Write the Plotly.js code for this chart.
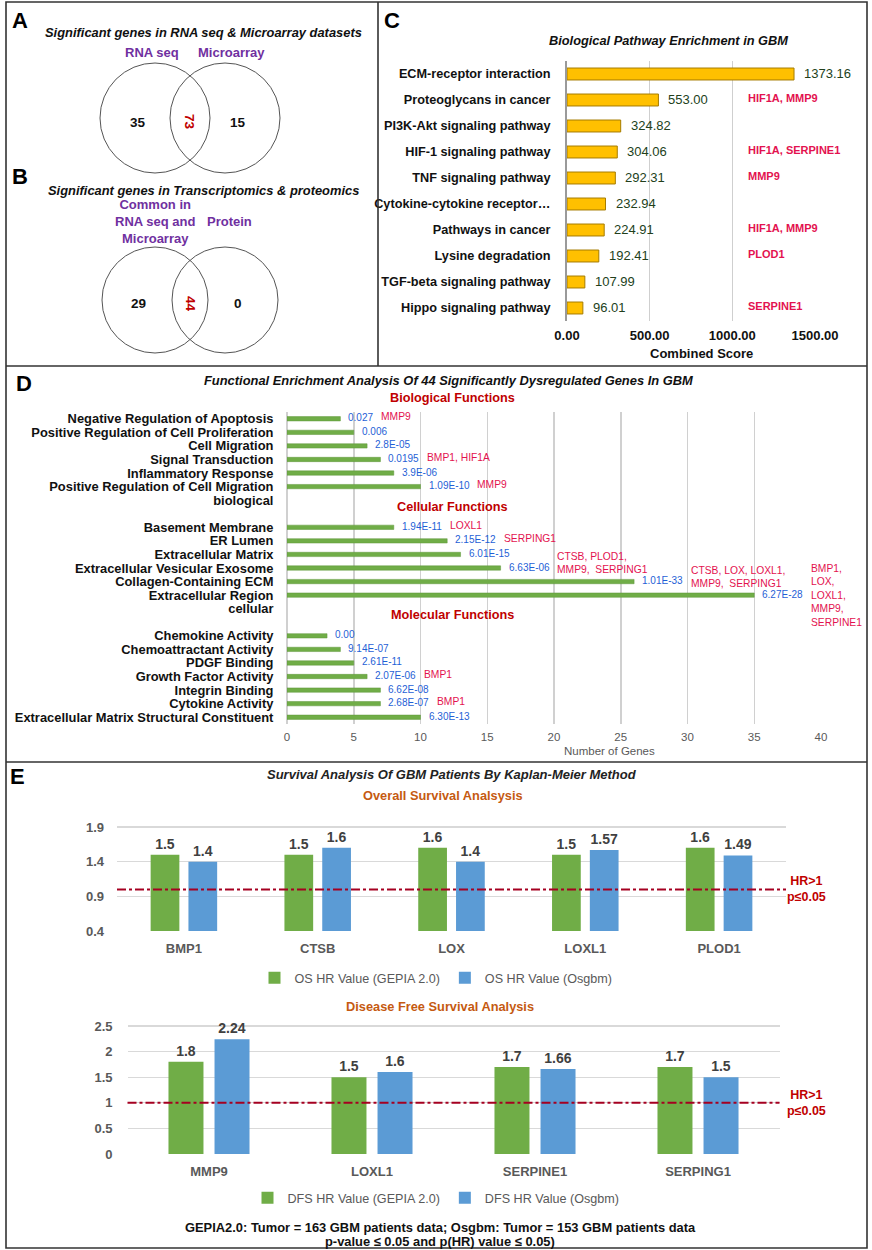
<!DOCTYPE html>
<html><head><meta charset="utf-8">
<script src="https://cdn.plot.ly/plotly-3.0.1.min.js"></script>
<style>html,body{margin:0;padding:0;background:#fff}#chart{width:872px;height:1250px}</style>
</head><body><div id="chart"></div>
<script>
// ---------------- DATA ----------------
// Panel A / B (Venn): [left only, overlap, right only]
const vennATitle = 'Significant genes in RNA seq & Microarray datasets';
const vennASets = ['RNA seq', 'Microarray'];
const vennACounts = [35, 73, 15];
const vennBTitle = 'Significant genes in Transcriptomics & proteomics';
const vennBSets = ['Common in<br>RNA seq and<br>Microarray', 'Protein'];
const vennBCounts = [29, 44, 0];

// Panel C
const cPathways = ['ECM-receptor interaction','Proteoglycans in cancer','PI3K-Akt signaling pathway','HIF-1 signaling pathway','TNF signaling pathway','Cytokine-cytokine receptor\u2026','Pathways in cancer','Lysine degradation','TGF-beta signaling pathway','Hippo signaling pathway'];
const cScores = [1373.16, 553.00, 324.82, 304.06, 292.31, 232.94, 224.91, 192.41, 107.99, 96.01];
const cGenes = ['', 'HIF1A, MMP9', '', 'HIF1A, SERPINE1', 'MMP9', '', 'HIF1A, MMP9', 'PLOD1', '', 'SERPINE1'];
const cTicks = [0, 500, 1000, 1500];

// Panel D
const dBioTerms = ['Negative Regulation of Apoptosis','Positive Regulation of Cell Proliferation','Cell Migration','Signal Transduction','Inflammatory Response','Positive Regulation of Cell Migration'];
const dBioCounts = [4, 5, 6, 7, 8, 10];
const dBioP = ['0.027','0.006','2.8E-05','0.0195','3.9E-06','1.09E-10'];
const dBioGenes = ['MMP9','','','BMP1, HIF1A','','MMP9'];
const dCellTerms = ['Basement Membrane','ER Lumen','Extracellular Matrix','Extracellular Vesicular Exosome','Collagen-Containing ECM','Extracellular Region'];
const dCellCounts = [8, 12, 13, 16, 26, 35];
const dCellP = ['1.94E-11','2.15E-12','6.01E-15','6.63E-06','1.01E-33','6.27E-28'];
const dCellGenes = ['LOXL1','SERPING1','','CTSB, PLOD1,<br>MMP9,\u00a0 SERPING1','CTSB, LOX, LOXL1,<br>MMP9,\u00a0 SERPING1','BMP1,<br>LOX,<br>LOXL1,<br>MMP9,<br>SERPINE1'];
const dMolTerms = ['Chemokine Activity','Chemoattractant Activity','PDGF Binding','Growth Factor Activity','Integrin Binding','Cytokine Activity','Extracellular Matrix Structural Constituent'];
const dMolCounts = [3, 4, 5, 6, 7, 7, 10];
const dMolP = ['0.00','9.14E-07','2.61E-11','2.07E-06','6.62E-08','2.68E-07','6.30E-13'];
const dMolGenes = ['','','','BMP1','','BMP1',''];
const dGroupTails = ['biological', 'cellular', ''];
const dSectionTitles = ['Biological Functions', 'Cellular Functions', 'Molecular Functions'];
const dTicks = [0, 5, 10, 15, 20, 25, 30, 35, 40];

// Panel E
const osGenes = ['BMP1','CTSB','LOX','LOXL1','PLOD1'];
const osGepia = [1.5, 1.5, 1.6, 1.5, 1.6];
const osOsgbm = [1.4, 1.6, 1.4, 1.57, 1.49];
const osTicks = [0.4, 0.9, 1.4, 1.9];
const dfsGenes = ['MMP9','LOXL1','SERPINE1','SERPING1'];
const dfsGepia = [1.8, 1.5, 1.7, 1.7];
const dfsOsgbm = [2.24, 1.6, 1.66, 1.5];
const dfsTicks = [0, 0.5, 1, 1.5, 2, 2.5];
const hrThreshold = 1;

// ---------------- HELPERS ----------------
const W = 872, H = 1250;
const px = x => x / W, py = y => 1 - y / H;
const FONT = '"Liberation Sans", Arial, Helvetica, sans-serif';
const cv = document.createElement('canvas').getContext('2d');
function textW(s, size, fam, weight) {
  cv.font = (weight || 'normal') + ' ' + size + 'px ' + fam;
  return cv.measureText(s.replace(/<[^>]+>/g, '')).width;
}
const GREEN = '#70AD47', BLUE = '#5B9BD5', PURPLE = '#7030A0', DARKRED = '#C00000', PINK = '#E3124F', PBLUE = '#1F5FD6';

const ann = [];
const shapes = [];
function txt(x, y, text, o) {
  o = o || {};
  ann.push(Object.assign({xref: 'paper', yref: 'paper', x: px(x), y: py(y), text: text, showarrow: false,
    xanchor: 'center', yanchor: 'middle',
    font: {family: FONT, size: o.size || 12, color: o.color || '#111'}}, o.extra || {}));
}

// ---------------- BORDERS ----------------
const lineS = {color: '#333', width: 1.6};
shapes.push({type: 'rect', xref: 'paper', yref: 'paper', x0: px(6), x1: px(867), y0: py(2), y1: py(1248), line: lineS});
shapes.push({type: 'line', xref: 'paper', yref: 'paper', x0: px(378), x1: px(378), y0: py(2), y1: py(366), line: lineS});
shapes.push({type: 'line', xref: 'paper', yref: 'paper', x0: px(6), x1: px(867), y0: py(366), y1: py(366), line: lineS});
shapes.push({type: 'line', xref: 'paper', yref: 'paper', x0: px(6), x1: px(867), y0: py(762), y1: py(762), line: lineS});

// panel letters
[['A', 20, 20], ['B', 20, 177], ['C', 392, 20], ['D', 24, 383], ['E', 17, 776]].forEach(l =>
  txt(l[1], l[2], '<b>' + l[0] + '</b>', {size: 22, color: '#000'}));

// ---------------- VENN A & B ----------------
function venn(cy, r, title, titleY, sets, setY, counts) {
  const cxL = 155, cxR = 225;
  shapes.push({type: 'circle', xref: 'paper', yref: 'paper', x0: px(cxL - r), x1: px(cxL + r), y0: py(cy - r), y1: py(cy + r), line: {color: '#555', width: 1}});
  shapes.push({type: 'circle', xref: 'paper', yref: 'paper', x0: px(cxR - r), x1: px(cxR + r), y0: py(cy - r), y1: py(cy + r), line: {color: '#555', width: 1}});
  txt(203, titleY, '<b><i>' + title + '</i></b>', {size: 12.9, color: '#111'});
  txt(setY[0][0], setY[0][1], '<b>' + sets[0] + '</b>', {size: 13, color: PURPLE});
  txt(setY[1][0], setY[1][1], '<b>' + sets[1] + '</b>', {size: 13, color: PURPLE});
  txt(138, cy + 4, '<b>' + counts[0] + '</b>', {size: 13.5, color: '#111'});
  txt(190, cy + 4, '<b>' + counts[1] + '</b>', {size: 13.5, color: DARKRED, extra: {textangle: 90}});
  txt(238, cy + 4, '<b>' + counts[2] + '</b>', {size: 13.5, color: '#111'});
}
venn(118, 55, vennATitle, 33, vennASets, [[152, 53], [231, 53]], vennACounts);
venn(300, 53, vennBTitle, 190, vennBSets, [[155, 222], [229, 222]], vennBCounts);

// ---------------- PANEL C ----------------
txt(668, 40, '<b><i>Biological Pathway Enrichment in GBM</i></b>', {size: 12.8, color: '#111'});
txt(701, 353, '<b>Combined Score</b>', {size: 13, color: '#111'});
cScores.forEach((v, i) => {
  ann.push({xref: 'x', yref: 'y', x: v, y: cPathways[i], text: v.toFixed(2), showarrow: false, xanchor: 'left', yanchor: 'middle',
    xshift: 8, font: {family: FONT, size: 13, color: '#223F1B'}});
  if (cGenes[i]) ann.push({xref: 'paper', yref: 'y', x: px(746), y: cPathways[i], text: '<b>' + cGenes[i] + '</b>', showarrow: false,
    xanchor: 'left', yanchor: 'middle', yshift: 2, font: {family: FONT, size: 11, color: PINK}});
});

// ---------------- PANEL D ----------------
const dGroups = [
  {terms: dBioTerms, counts: dBioCounts, p: dBioP, genes: dBioGenes},
  {terms: dCellTerms, counts: dCellCounts, p: dCellP, genes: dCellGenes},
  {terms: dMolTerms, counts: dMolCounts, p: dMolP, genes: dMolGenes}
];
const dRowPos = [], dRowLabel = [], dY = [], dX = [], dPT = [], dGT = [], dHeadPos = [];
let idx = 0;
dGroups.forEach((g, gi) => {
  dHeadPos.push(idx - 1.5);
  g.terms.forEach((t, i) => {
    dRowPos.push(idx); dRowLabel.push('<b>' + t + '</b>');
    dY.push(idx); dX.push(g.counts[i]); dPT.push(g.p[i]); dGT.push(g.genes[i]);
    idx++;
  });
  if (dGroupTails[gi]) { dRowPos.push(idx); dRowLabel.push('<b>' + dGroupTails[gi] + '</b>'); idx += 2; }
});
const dLast = idx - 1;
const dTopPx = 412, dBotPx = 724;
const dRowH = (dBotPx - dTopPx) / (dLast + 1);
txt(448, 381, '<b><i>Functional Enrichment Analysis Of 44 Significantly Dysregulated Genes In GBM</i></b>', {size: 12.9, color: '#111'});
dSectionTitles.forEach((s, i) => {
  txt(452, dTopPx + (dHeadPos[i] + 0.5) * dRowH, '<b>' + s + '</b>', {size: 12.7, color: DARKRED});
});
const PF = 10;
dX.forEach((v, i) => {
  ann.push({xref: 'x2', yref: 'y2', x: v, y: dY[i], text: dPT[i], showarrow: false, xanchor: 'left', yanchor: 'middle',
    xshift: 6, yshift: 1, font: {family: FONT, size: PF, color: PBLUE}});
  if (dGT[i]) {
    const nLines = dGT[i].split('<br>').length;
    ann.push({xref: 'x2', yref: 'y2', x: v, y: dY[i], text: dGT[i], showarrow: false, xanchor: 'left', yanchor: 'middle',
      align: 'left', xshift: 6 + textW(dPT[i], PF, FONT) + 8, yshift: nLines === 2 ? 5 : (nLines > 2 ? 0 : 2),
      font: {family: FONT, size: 10.3, color: PINK}});
  }
});
txt(609, 751, 'Number of Genes', {size: 11.5, color: '#595959'});

// ---------------- PANEL E ----------------
txt(452, 774, '<b><i>Survival Analysis Of GBM Patients By Kaplan-Meier Method</i></b>', {size: 13, color: '#222'});
txt(443, 795, '<b>Overall Survival Analsysis</b>', {size: 12.8, color: '#C55A11'});
txt(440, 1006, '<b>Disease Free Survival Analysis</b>', {size: 12.8, color: '#C55A11'});
txt(440, 1227, '<b>GEPIA2.0: Tumor = 163 GBM patients data; Osgbm: Tumor = 153 GBM patients data</b>', {size: 12.9, color: '#111'});
txt(440, 1241, '<b>p-value \u2264 0.05 and p(HR) value \u2264 0.05)</b>', {size: 12.9, color: '#111'});
[['x3', 'y3'], ['x4', 'y4']].forEach(a => {
  shapes.push({type: 'line', xref: a[0] + ' domain', yref: a[1], x0: 0, x1: 1, y0: hrThreshold, y1: hrThreshold,
    line: {color: '#A50021', width: 2, dash: 'dashdot'}});
  ann.push({xref: 'paper', yref: a[1], x: px(806), y: hrThreshold, text: '<b>HR>1<br>p\u22640.05</b>', showarrow: false,
    xanchor: 'center', yanchor: 'middle', font: {family: FONT, size: 12.5, color: DARKRED}});
});

// ---------------- TRACES ----------------
const valFont = {family: FONT, size: 14, color: '#404040', weight: 'bold'};
const traces = [
  {type: 'bar', orientation: 'h', x: cScores, y: cPathways, xaxis: 'x', yaxis: 'y', width: 0.46,
    marker: {color: '#FFC000', line: {color: '#A67C00', width: 1}}, showlegend: false, hoverinfo: 'skip', cliponaxis: false},
  {type: 'bar', orientation: 'h', x: dX, y: dY, xaxis: 'x2', yaxis: 'y2', width: 0.32,
    marker: {color: GREEN, line: {color: '#5E963A', width: 0.5}}, showlegend: false, hoverinfo: 'skip', cliponaxis: false},
  {type: 'bar', name: 'OS HR Value (GEPIA 2.0)', x: osGenes, y: osGepia, xaxis: 'x3', yaxis: 'y3', marker: {color: GREEN},
    text: osGepia.map(String), textposition: 'outside', constraintext: 'none', cliponaxis: true, textfont: valFont, legend: 'legend'},
  {type: 'bar', name: 'OS HR Value (Osgbm)', x: osGenes, y: osOsgbm, xaxis: 'x3', yaxis: 'y3', marker: {color: BLUE},
    text: osOsgbm.map(String), textposition: 'outside', constraintext: 'none', cliponaxis: true, textfont: valFont, legend: 'legend'},
  {type: 'bar', name: 'DFS HR Value (GEPIA 2.0)', x: dfsGenes, y: dfsGepia, xaxis: 'x4', yaxis: 'y4', marker: {color: GREEN},
    text: dfsGepia.map(String), textposition: 'outside', constraintext: 'none', cliponaxis: true, textfont: valFont, legend: 'legend2'},
  {type: 'bar', name: 'DFS HR Value (Osgbm)', x: dfsGenes, y: dfsOsgbm, xaxis: 'x4', yaxis: 'y4', marker: {color: BLUE},
    text: dfsOsgbm.map(String), textposition: 'outside', constraintext: 'none', cliponaxis: true, textfont: valFont, legend: 'legend2'}
];

const osPer = (931 - 827) / (osTicks[osTicks.length - 1] - osTicks[0]);
const dfsPer = (1154 - 1026) / dfsTicks[dfsTicks.length - 1];
const osTop = 2.0, dfsTop = 2.75;
const eTick = {family: FONT, size: 13, color: '#595959', weight: 'bold'};

const layout = {
  width: W, height: H, margin: {l: 0, r: 0, t: 0, b: 0}, paper_bgcolor: '#fff', plot_bgcolor: 'rgba(0,0,0,0)',
  barmode: 'group', bargap: 0.435, bargroupgap: 0.24,
  font: {family: FONT, color: '#111'},
  // C
  xaxis: {domain: [px(567), px(815)], range: [0, 1500], tickvals: cTicks, tickformat: '.2f', anchor: 'y',
    showgrid: true, gridcolor: '#cfcfcf', gridwidth: 1.5, zeroline: false, showline: false, ticks: '',
    tickfont: {family: FONT, size: 13, color: '#111', weight: 'bold'}, ticklabelstandoff: 5},
  yaxis: {domain: [py(321), py(61)], type: 'category', categoryorder: 'array', categoryarray: cPathways, autorange: 'reversed',
    anchor: 'x', showline: true, linecolor: '#9a9a9a', linewidth: 2, showgrid: false, ticks: 'outside', ticklen: 12,
    tickcolor: 'rgba(0,0,0,0)', tickfont: {family: FONT, size: 12.7, color: '#111', weight: 'bold'}},
  // D
  xaxis2: {domain: [px(287), px(821)], range: [0, 40], tickvals: dTicks, anchor: 'y2', showgrid: true, gridcolor: '#d0d0d0',
    gridwidth: 1.5, zeroline: true, zerolinecolor: '#d0d0d0', zerolinewidth: 1.5, showline: false, ticks: '',
    tickfont: {family: FONT, size: 11.5, color: '#595959'}, ticklabelstandoff: 4},
  yaxis2: {domain: [py(dBotPx), py(dTopPx)], range: [dLast + 0.5, -0.5], tickvals: dRowPos, ticktext: dRowLabel, anchor: 'x2',
    showgrid: false, zeroline: false, showline: false, ticks: 'outside', ticklen: 10, tickcolor: 'rgba(0,0,0,0)',
    tickfont: {family: FONT, size: 12.9, color: '#111'}},
  // E top
  xaxis3: {domain: [px(117), px(786)], type: 'category', anchor: 'y3', showline: false, ticks: '', showgrid: false,
    tickfont: eTick, ticklabelstandoff: 8},
  yaxis3: {domain: [py(931), py(931 - (osTop - osTicks[0]) * osPer)], range: [osTicks[0], osTop], tickvals: osTicks,
    anchor: 'x3', showgrid: true, gridcolor: '#d9d9d9', gridwidth: 1.3, zeroline: false, showline: false, ticks: '',
    tickfont: eTick, ticklabelstandoff: 12},
  // E bottom
  xaxis4: {domain: [px(127.5), px(779.5)], type: 'category', anchor: 'y4', showline: false, ticks: '', showgrid: false,
    tickfont: eTick, ticklabelstandoff: 8},
  yaxis4: {domain: [py(1154), py(1154 - dfsTop * dfsPer)], range: [0, dfsTop], tickvals: dfsTicks,
    anchor: 'x4', showgrid: true, gridcolor: '#d9d9d9', gridwidth: 1.3, zeroline: false, showline: false, ticks: '',
    tickfont: eTick, ticklabelstandoff: 14},
  legend: {orientation: 'h', x: px(436), xanchor: 'center', y: py(978), yanchor: 'middle', bgcolor: 'rgba(0,0,0,0)',
    font: {family: FONT, size: 12.6, color: '#595959'}, itemwidth: 30},
  legend2: {orientation: 'h', x: px(436), xanchor: 'center', y: py(1198), yanchor: 'middle', bgcolor: 'rgba(0,0,0,0)',
    font: {family: FONT, size: 12.6, color: '#595959'}, itemwidth: 30},
  annotations: ann,
  shapes: shapes
};

Plotly.newPlot('chart', traces, layout, {displayModeBar: false, staticPlot: true});
</script>
</body></html>
